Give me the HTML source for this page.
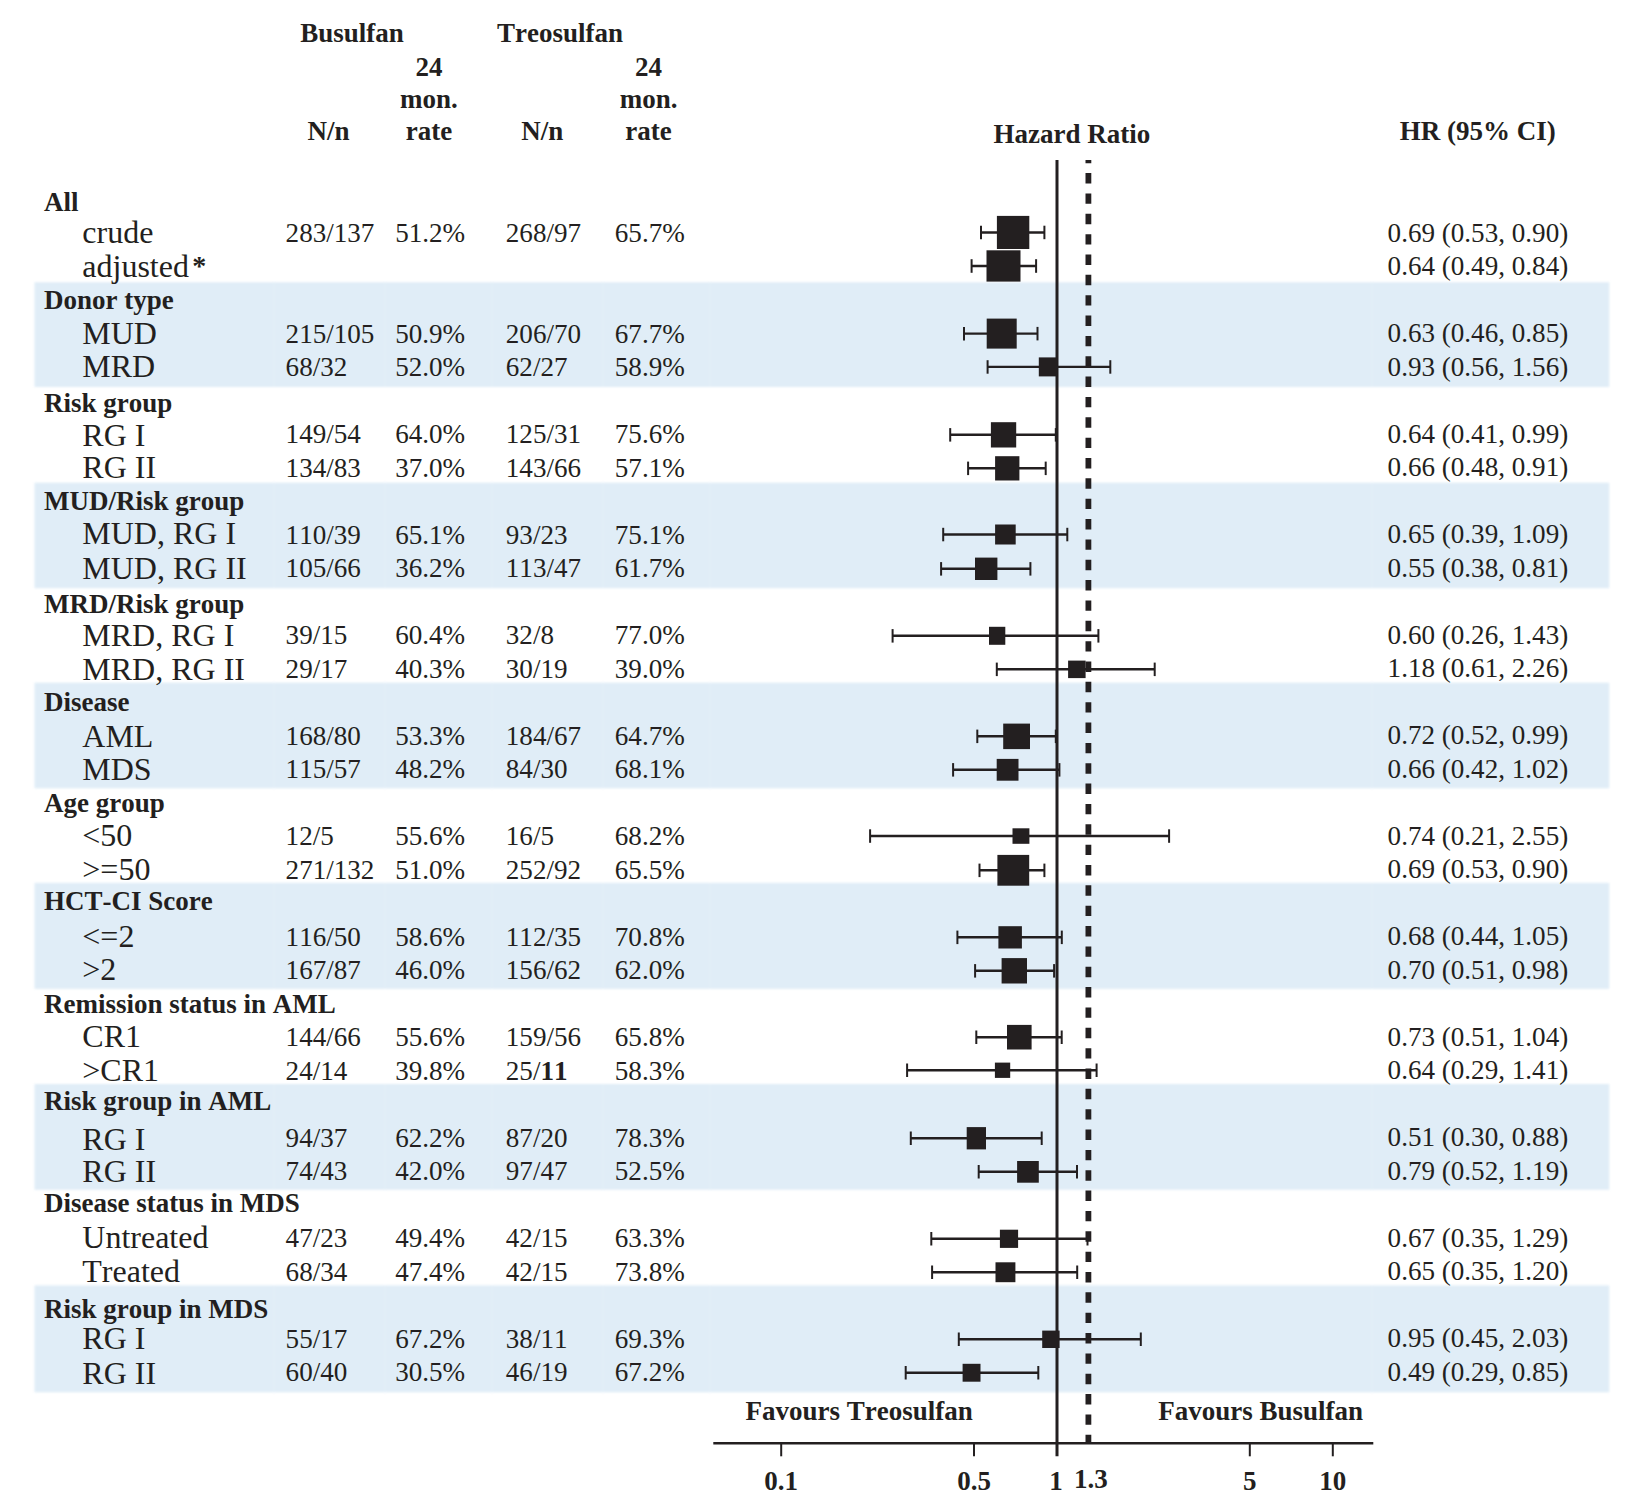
<!DOCTYPE html>
<html lang="en"><head><meta charset="utf-8"><title>Forest plot</title>
<style>
html,body{margin:0;padding:0;background:#fff;}
body{width:1650px;height:1508px;overflow:hidden;}
svg{display:block;}
.bands{filter:blur(1px);}
text{font-kerning:none;font-family:"Liberation Serif",serif;fill:#231f20;}
.b{font-weight:bold;font-size:27.00px;}
.d{font-size:27.10px;}
.l{font-size:32.00px;}
.m{text-anchor:middle;}
</style></head><body>
<svg width="1650" height="1508" viewBox="0 0 1650 1508">
<rect width="1650" height="1508" fill="#fff"/>
<g class="bands">
<rect x="34.5" y="282.2" width="1574.8" height="104.8" fill="#e0edf7"/>
<rect x="34.5" y="482.7" width="1574.8" height="105.5" fill="#e0edf7"/>
<rect x="34.5" y="682.7" width="1574.8" height="105.6" fill="#e0edf7"/>
<rect x="34.5" y="882.9" width="1574.8" height="106.0" fill="#e0edf7"/>
<rect x="34.5" y="1084.0" width="1574.8" height="105.8" fill="#e0edf7"/>
<rect x="34.5" y="1285.4" width="1574.8" height="106.9" fill="#e0edf7"/>
<rect x="273.0" y="282.2" width="2" height="104.8" fill="#fff" opacity="0.08"/>
<rect x="273.0" y="482.7" width="2" height="105.5" fill="#fff" opacity="0.08"/>
<rect x="273.0" y="682.7" width="2" height="105.6" fill="#fff" opacity="0.08"/>
<rect x="273.0" y="882.9" width="2" height="106.0" fill="#fff" opacity="0.08"/>
<rect x="273.0" y="1084.0" width="2" height="105.8" fill="#fff" opacity="0.08"/>
<rect x="273.0" y="1285.4" width="2" height="106.9" fill="#fff" opacity="0.08"/>
<rect x="384.0" y="282.2" width="2" height="104.8" fill="#fff" opacity="0.08"/>
<rect x="384.0" y="482.7" width="2" height="105.5" fill="#fff" opacity="0.08"/>
<rect x="384.0" y="682.7" width="2" height="105.6" fill="#fff" opacity="0.08"/>
<rect x="384.0" y="882.9" width="2" height="106.0" fill="#fff" opacity="0.08"/>
<rect x="384.0" y="1084.0" width="2" height="105.8" fill="#fff" opacity="0.08"/>
<rect x="384.0" y="1285.4" width="2" height="106.9" fill="#fff" opacity="0.08"/>
<rect x="491.0" y="282.2" width="2" height="104.8" fill="#fff" opacity="0.08"/>
<rect x="491.0" y="482.7" width="2" height="105.5" fill="#fff" opacity="0.08"/>
<rect x="491.0" y="682.7" width="2" height="105.6" fill="#fff" opacity="0.08"/>
<rect x="491.0" y="882.9" width="2" height="106.0" fill="#fff" opacity="0.08"/>
<rect x="491.0" y="1084.0" width="2" height="105.8" fill="#fff" opacity="0.08"/>
<rect x="491.0" y="1285.4" width="2" height="106.9" fill="#fff" opacity="0.08"/>
<rect x="602.0" y="282.2" width="2" height="104.8" fill="#fff" opacity="0.08"/>
<rect x="602.0" y="482.7" width="2" height="105.5" fill="#fff" opacity="0.08"/>
<rect x="602.0" y="682.7" width="2" height="105.6" fill="#fff" opacity="0.08"/>
<rect x="602.0" y="882.9" width="2" height="106.0" fill="#fff" opacity="0.08"/>
<rect x="602.0" y="1084.0" width="2" height="105.8" fill="#fff" opacity="0.08"/>
<rect x="602.0" y="1285.4" width="2" height="106.9" fill="#fff" opacity="0.08"/>
<rect x="709.0" y="282.2" width="2" height="104.8" fill="#fff" opacity="0.08"/>
<rect x="709.0" y="482.7" width="2" height="105.5" fill="#fff" opacity="0.08"/>
<rect x="709.0" y="682.7" width="2" height="105.6" fill="#fff" opacity="0.08"/>
<rect x="709.0" y="882.9" width="2" height="106.0" fill="#fff" opacity="0.08"/>
<rect x="709.0" y="1084.0" width="2" height="105.8" fill="#fff" opacity="0.08"/>
<rect x="709.0" y="1285.4" width="2" height="106.9" fill="#fff" opacity="0.08"/>
<rect x="1371.0" y="282.2" width="2" height="104.8" fill="#fff" opacity="0.08"/>
<rect x="1371.0" y="482.7" width="2" height="105.5" fill="#fff" opacity="0.08"/>
<rect x="1371.0" y="682.7" width="2" height="105.6" fill="#fff" opacity="0.08"/>
<rect x="1371.0" y="882.9" width="2" height="106.0" fill="#fff" opacity="0.08"/>
<rect x="1371.0" y="1084.0" width="2" height="105.8" fill="#fff" opacity="0.08"/>
<rect x="1371.0" y="1285.4" width="2" height="106.9" fill="#fff" opacity="0.08"/>
</g>
<text x="300.3" y="42.3" class="b">Busulfan</text>
<text x="497.0" y="42.3" class="b">Treosulfan</text>
<text x="428.9" y="75.7" class="b m">24</text>
<text x="428.9" y="108.0" class="b m">mon.</text>
<text x="428.9" y="139.8" class="b m">rate</text>
<text x="648.6" y="75.7" class="b m">24</text>
<text x="648.6" y="108.0" class="b m">mon.</text>
<text x="648.6" y="139.8" class="b m">rate</text>
<text x="307.5" y="139.8" class="b">N/n</text>
<text x="521.3" y="139.8" class="b">N/n</text>
<text x="993.6" y="142.7" class="b">Hazard Ratio</text>
<text x="1399.8" y="140.0" class="b">HR (95% CI)</text>
<text x="44.0" y="210.8" class="b">All</text>
<text x="82.3" y="242.6" class="l">crude</text>
<text x="285.6" y="242.2" class="d">283/137</text>
<text x="395.2" y="242.2" class="d">51.2%</text>
<text x="505.8" y="242.2" class="d">268/97</text>
<text x="614.8" y="242.2" class="d">65.7%</text>
<text x="1387.6" y="241.6" class="d">0.69 (0.53, 0.90)</text>
<text x="82.3" y="277.2" class="l">adjusted<tspan font-weight="bold" font-size="28" dx="3.2" dy="-2.2">*</tspan></text>
<text x="1387.6" y="275.1" class="d">0.64 (0.49, 0.84)</text>
<text x="44.0" y="309.0" class="b">Donor type</text>
<text x="82.3" y="343.5" class="l">MUD</text>
<text x="285.6" y="342.7" class="d">215/105</text>
<text x="395.2" y="342.7" class="d">50.9%</text>
<text x="505.8" y="342.7" class="d">206/70</text>
<text x="614.8" y="342.7" class="d">67.7%</text>
<text x="1387.6" y="342.1" class="d">0.63 (0.46, 0.85)</text>
<text x="82.3" y="377.4" class="l">MRD</text>
<text x="285.6" y="376.2" class="d">68/32</text>
<text x="395.2" y="376.2" class="d">52.0%</text>
<text x="505.8" y="376.2" class="d">62/27</text>
<text x="614.8" y="376.2" class="d">58.9%</text>
<text x="1387.6" y="375.6" class="d">0.93 (0.56, 1.56)</text>
<text x="44.0" y="412.2" class="b">Risk group</text>
<text x="82.3" y="445.7" class="l">RG I</text>
<text x="285.6" y="443.2" class="d">149/54</text>
<text x="395.2" y="443.2" class="d">64.0%</text>
<text x="505.8" y="443.2" class="d">125/31</text>
<text x="614.8" y="443.2" class="d">75.6%</text>
<text x="1387.6" y="442.6" class="d">0.64 (0.41, 0.99)</text>
<text x="82.3" y="478.2" class="l">RG II</text>
<text x="285.6" y="476.7" class="d">134/83</text>
<text x="395.2" y="476.7" class="d">37.0%</text>
<text x="505.8" y="476.7" class="d">143/66</text>
<text x="614.8" y="476.7" class="d">57.1%</text>
<text x="1387.6" y="476.1" class="d">0.66 (0.48, 0.91)</text>
<text x="44.0" y="509.6" class="b">MUD/Risk group</text>
<text x="82.3" y="544.2" class="l">MUD, RG I</text>
<text x="285.6" y="543.7" class="d">110/39</text>
<text x="395.2" y="543.7" class="d">65.1%</text>
<text x="505.8" y="543.7" class="d">93/23</text>
<text x="614.8" y="543.7" class="d">75.1%</text>
<text x="1387.6" y="543.1" class="d">0.65 (0.39, 1.09)</text>
<text x="82.3" y="578.7" class="l">MUD, RG II</text>
<text x="285.6" y="577.2" class="d">105/66</text>
<text x="395.2" y="577.2" class="d">36.2%</text>
<text x="505.8" y="577.2" class="d">113/47</text>
<text x="614.8" y="577.2" class="d">61.7%</text>
<text x="1387.6" y="576.6" class="d">0.55 (0.38, 0.81)</text>
<text x="44.0" y="613.4" class="b">MRD/Risk group</text>
<text x="82.3" y="646.2" class="l">MRD, RG I</text>
<text x="285.6" y="644.2" class="d">39/15</text>
<text x="395.2" y="644.2" class="d">60.4%</text>
<text x="505.8" y="644.2" class="d">32/8</text>
<text x="614.8" y="644.2" class="d">77.0%</text>
<text x="1387.6" y="643.6" class="d">0.60 (0.26, 1.43)</text>
<text x="82.3" y="679.7" class="l">MRD, RG II</text>
<text x="285.6" y="677.7" class="d">29/17</text>
<text x="395.2" y="677.7" class="d">40.3%</text>
<text x="505.8" y="677.7" class="d">30/19</text>
<text x="614.8" y="677.7" class="d">39.0%</text>
<text x="1387.6" y="677.1" class="d">1.18 (0.61, 2.26)</text>
<text x="44.0" y="711.3" class="b">Disease</text>
<text x="82.3" y="746.7" class="l">AML</text>
<text x="285.6" y="744.7" class="d">168/80</text>
<text x="395.2" y="744.7" class="d">53.3%</text>
<text x="505.8" y="744.7" class="d">184/67</text>
<text x="614.8" y="744.7" class="d">64.7%</text>
<text x="1387.6" y="744.1" class="d">0.72 (0.52, 0.99)</text>
<text x="82.3" y="780.4" class="l">MDS</text>
<text x="285.6" y="778.2" class="d">115/57</text>
<text x="395.2" y="778.2" class="d">48.2%</text>
<text x="505.8" y="778.2" class="d">84/30</text>
<text x="614.8" y="778.2" class="d">68.1%</text>
<text x="1387.6" y="777.6" class="d">0.66 (0.42, 1.02)</text>
<text x="44.0" y="812.2" class="b">Age group</text>
<text x="82.3" y="845.7" class="l">&lt;50</text>
<text x="285.6" y="845.2" class="d">12/5</text>
<text x="395.2" y="845.2" class="d">55.6%</text>
<text x="505.8" y="845.2" class="d">16/5</text>
<text x="614.8" y="845.2" class="d">68.2%</text>
<text x="1387.6" y="844.6" class="d">0.74 (0.21, 2.55)</text>
<text x="82.3" y="879.7" class="l">&gt;=50</text>
<text x="285.6" y="878.7" class="d">271/132</text>
<text x="395.2" y="878.7" class="d">51.0%</text>
<text x="505.8" y="878.7" class="d">252/92</text>
<text x="614.8" y="878.7" class="d">65.5%</text>
<text x="1387.6" y="878.1" class="d">0.69 (0.53, 0.90)</text>
<text x="44.0" y="910.3" class="b">HCT-CI Score</text>
<text x="82.3" y="947.0" class="l">&lt;=2</text>
<text x="285.6" y="945.7" class="d">116/50</text>
<text x="395.2" y="945.7" class="d">58.6%</text>
<text x="505.8" y="945.7" class="d">112/35</text>
<text x="614.8" y="945.7" class="d">70.8%</text>
<text x="1387.6" y="945.1" class="d">0.68 (0.44, 1.05)</text>
<text x="82.3" y="980.3" class="l">&gt;2</text>
<text x="285.6" y="979.2" class="d">167/87</text>
<text x="395.2" y="979.2" class="d">46.0%</text>
<text x="505.8" y="979.2" class="d">156/62</text>
<text x="614.8" y="979.2" class="d">62.0%</text>
<text x="1387.6" y="978.6" class="d">0.70 (0.51, 0.98)</text>
<text x="44.0" y="1013.4" class="b">Remission status in AML</text>
<text x="82.3" y="1047.3" class="l">CR1</text>
<text x="285.6" y="1046.2" class="d">144/66</text>
<text x="395.2" y="1046.2" class="d">55.6%</text>
<text x="505.8" y="1046.2" class="d">159/56</text>
<text x="614.8" y="1046.2" class="d">65.8%</text>
<text x="1387.6" y="1045.6" class="d">0.73 (0.51, 1.04)</text>
<text x="82.3" y="1081.3" class="l">&gt;CR1</text>
<text x="285.6" y="1079.7" class="d">24/14</text>
<text x="395.2" y="1079.7" class="d">39.8%</text>
<text x="505.8" y="1079.7" class="d">25/<tspan font-weight="bold">11</tspan></text>
<text x="614.8" y="1079.7" class="d">58.3%</text>
<text x="1387.6" y="1079.1" class="d">0.64 (0.29, 1.41)</text>
<text x="44.0" y="1109.7" class="b">Risk group in AML</text>
<text x="82.3" y="1150.0" class="l">RG I</text>
<text x="285.6" y="1146.7" class="d">94/37</text>
<text x="395.2" y="1146.7" class="d">62.2%</text>
<text x="505.8" y="1146.7" class="d">87/20</text>
<text x="614.8" y="1146.7" class="d">78.3%</text>
<text x="1387.6" y="1146.1" class="d">0.51 (0.30, 0.88)</text>
<text x="82.3" y="1181.9" class="l">RG II</text>
<text x="285.6" y="1180.2" class="d">74/43</text>
<text x="395.2" y="1180.2" class="d">42.0%</text>
<text x="505.8" y="1180.2" class="d">97/47</text>
<text x="614.8" y="1180.2" class="d">52.5%</text>
<text x="1387.6" y="1179.6" class="d">0.79 (0.52, 1.19)</text>
<text x="44.0" y="1212.1" class="b">Disease status in MDS</text>
<text x="82.3" y="1248.3" class="l">Untreated</text>
<text x="285.6" y="1247.2" class="d">47/23</text>
<text x="395.2" y="1247.2" class="d">49.4%</text>
<text x="505.8" y="1247.2" class="d">42/15</text>
<text x="614.8" y="1247.2" class="d">63.3%</text>
<text x="1387.6" y="1246.6" class="d">0.67 (0.35, 1.29)</text>
<text x="82.3" y="1281.9" class="l">Treated</text>
<text x="285.6" y="1280.7" class="d">68/34</text>
<text x="395.2" y="1280.7" class="d">47.4%</text>
<text x="505.8" y="1280.7" class="d">42/15</text>
<text x="614.8" y="1280.7" class="d">73.8%</text>
<text x="1387.6" y="1280.1" class="d">0.65 (0.35, 1.20)</text>
<text x="44.0" y="1318.2" class="b">Risk group in MDS</text>
<text x="82.3" y="1349.4" class="l">RG I</text>
<text x="285.6" y="1347.7" class="d">55/17</text>
<text x="395.2" y="1347.7" class="d">67.2%</text>
<text x="505.8" y="1347.7" class="d">38/11</text>
<text x="614.8" y="1347.7" class="d">69.3%</text>
<text x="1387.6" y="1347.1" class="d">0.95 (0.45, 2.03)</text>
<text x="82.3" y="1383.5" class="l">RG II</text>
<text x="285.6" y="1381.2" class="d">60/40</text>
<text x="395.2" y="1381.2" class="d">30.5%</text>
<text x="505.8" y="1381.2" class="d">46/19</text>
<text x="614.8" y="1381.2" class="d">67.2%</text>
<text x="1387.6" y="1380.6" class="d">0.49 (0.29, 0.85)</text>
<line x1="1088.4" y1="160" x2="1088.4" y2="1443.2" stroke="#231f20" stroke-width="5.8" stroke-dasharray="10.4 9.95" stroke-dashoffset="7.25"/>
<line x1="1057.0" y1="160" x2="1057.0" y2="1456.3" stroke="#231f20" stroke-width="3"/>
<line x1="713.3" y1="1443.2" x2="1373.3" y2="1443.2" stroke="#231f20" stroke-width="2.4"/>
<line x1="781.2" y1="1443.2" x2="781.2" y2="1456.3" stroke="#231f20" stroke-width="2"/>
<line x1="974.0" y1="1443.2" x2="974.0" y2="1456.3" stroke="#231f20" stroke-width="2"/>
<line x1="1249.8" y1="1443.2" x2="1249.8" y2="1456.3" stroke="#231f20" stroke-width="2"/>
<line x1="1332.8" y1="1443.2" x2="1332.8" y2="1456.3" stroke="#231f20" stroke-width="2"/>
<text x="781.2" y="1489.8" class="b m">0.1</text>
<text x="974.0" y="1489.8" class="b m">0.5</text>
<text x="1056.0" y="1490.2" class="b m">1</text>
<text x="1074.0" y="1488.2" class="b">1.3</text>
<text x="1249.8" y="1489.8" class="b m">5</text>
<text x="1332.8" y="1489.8" class="b m">10</text>
<text x="745.6" y="1420.3" class="b">Favours Treosulfan</text>
<text x="1158.2" y="1420.3" class="b">Favours Busulfan</text>
<g stroke="#231f20" stroke-width="2.4"><line x1="981.0" y1="232.5" x2="1044.4" y2="232.5"/>
<line x1="981.0" y1="225.7" x2="981.0" y2="239.2" stroke-width="2"/><line x1="1044.4" y1="225.7" x2="1044.4" y2="239.2" stroke-width="2"/></g>
<rect x="996.9" y="215.9" width="32.4" height="33.1" fill="#231f20"/>
<g stroke="#231f20" stroke-width="2.4"><line x1="971.6" y1="266.0" x2="1036.1" y2="266.0"/>
<line x1="971.6" y1="259.2" x2="971.6" y2="272.8" stroke-width="2"/><line x1="1036.1" y1="259.2" x2="1036.1" y2="272.8" stroke-width="2"/></g>
<rect x="986.5" y="250.3" width="34.0" height="31.3" fill="#231f20"/>
<g stroke="#231f20" stroke-width="2.4"><line x1="964.0" y1="333.6" x2="1037.5" y2="333.6"/>
<line x1="964.0" y1="326.9" x2="964.0" y2="340.4" stroke-width="2"/><line x1="1037.5" y1="326.9" x2="1037.5" y2="340.4" stroke-width="2"/></g>
<rect x="986.7" y="318.6" width="30.0" height="30.0" fill="#231f20"/>
<g stroke="#231f20" stroke-width="2.4"><line x1="987.6" y1="366.9" x2="1110.3" y2="366.9"/>
<line x1="987.6" y1="360.2" x2="987.6" y2="373.7" stroke-width="2"/><line x1="1110.3" y1="360.2" x2="1110.3" y2="373.7" stroke-width="2"/></g>
<rect x="1038.8" y="357.4" width="19.0" height="19.0" fill="#231f20"/>
<g stroke="#231f20" stroke-width="2.4"><line x1="950.2" y1="434.8" x2="1055.8" y2="434.8"/>
<line x1="950.2" y1="428.1" x2="950.2" y2="441.6" stroke-width="2"/><line x1="1055.8" y1="428.1" x2="1055.8" y2="441.6" stroke-width="2"/></g>
<rect x="990.9" y="422.2" width="25.3" height="25.3" fill="#231f20"/>
<g stroke="#231f20" stroke-width="2.4"><line x1="968.1" y1="468.3" x2="1045.7" y2="468.3"/>
<line x1="968.1" y1="461.6" x2="968.1" y2="475.1" stroke-width="2"/><line x1="1045.7" y1="461.6" x2="1045.7" y2="475.1" stroke-width="2"/></g>
<rect x="995.1" y="456.2" width="24.3" height="24.3" fill="#231f20"/>
<g stroke="#231f20" stroke-width="2.4"><line x1="943.2" y1="534.5" x2="1067.3" y2="534.5"/>
<line x1="943.2" y1="527.8" x2="943.2" y2="541.3" stroke-width="2"/><line x1="1067.3" y1="527.8" x2="1067.3" y2="541.3" stroke-width="2"/></g>
<rect x="995.1" y="524.5" width="20.6" height="20.0" fill="#231f20"/>
<g stroke="#231f20" stroke-width="2.4"><line x1="941.1" y1="568.8" x2="1030.4" y2="568.8"/>
<line x1="941.1" y1="562.1" x2="941.1" y2="575.6" stroke-width="2"/><line x1="1030.4" y1="562.1" x2="1030.4" y2="575.6" stroke-width="2"/></g>
<rect x="975.0" y="557.6" width="22.4" height="22.4" fill="#231f20"/>
<g stroke="#231f20" stroke-width="2.4"><line x1="892.6" y1="635.8" x2="1098.4" y2="635.8"/>
<line x1="892.6" y1="629.1" x2="892.6" y2="642.6" stroke-width="2"/><line x1="1098.4" y1="629.1" x2="1098.4" y2="642.6" stroke-width="2"/></g>
<rect x="989.0" y="626.8" width="16.3" height="18.0" fill="#231f20"/>
<g stroke="#231f20" stroke-width="2.4"><line x1="996.8" y1="669.3" x2="1154.7" y2="669.3"/>
<line x1="996.8" y1="662.6" x2="996.8" y2="676.1" stroke-width="2"/><line x1="1154.7" y1="662.6" x2="1154.7" y2="676.1" stroke-width="2"/></g>
<rect x="1068.1" y="660.6" width="17.5" height="17.5" fill="#231f20"/>
<g stroke="#231f20" stroke-width="2.4"><line x1="977.3" y1="736.3" x2="1055.8" y2="736.3"/>
<line x1="977.3" y1="729.6" x2="977.3" y2="743.1" stroke-width="2"/><line x1="1055.8" y1="729.6" x2="1055.8" y2="743.1" stroke-width="2"/></g>
<rect x="1003.2" y="723.6" width="26.8" height="25.5" fill="#231f20"/>
<g stroke="#231f20" stroke-width="2.4"><line x1="953.1" y1="769.8" x2="1059.4" y2="769.8"/>
<line x1="953.1" y1="763.1" x2="953.1" y2="776.6" stroke-width="2"/><line x1="1059.4" y1="763.1" x2="1059.4" y2="776.6" stroke-width="2"/></g>
<rect x="996.7" y="758.9" width="21.8" height="21.8" fill="#231f20"/>
<g stroke="#231f20" stroke-width="2.4"><line x1="870.1" y1="836.0" x2="1169.1" y2="836.0"/>
<line x1="870.1" y1="829.3" x2="870.1" y2="842.8" stroke-width="2"/><line x1="1169.1" y1="829.3" x2="1169.1" y2="842.8" stroke-width="2"/></g>
<rect x="1012.5" y="828.3" width="16.9" height="15.5" fill="#231f20"/>
<g stroke="#231f20" stroke-width="2.4"><line x1="979.5" y1="870.3" x2="1044.4" y2="870.3"/>
<line x1="979.5" y1="863.6" x2="979.5" y2="877.1" stroke-width="2"/><line x1="1044.4" y1="863.6" x2="1044.4" y2="877.1" stroke-width="2"/></g>
<rect x="997.4" y="854.9" width="31.8" height="30.8" fill="#231f20"/>
<g stroke="#231f20" stroke-width="2.4"><line x1="957.4" y1="937.3" x2="1061.8" y2="937.3"/>
<line x1="957.4" y1="930.6" x2="957.4" y2="944.1" stroke-width="2"/><line x1="1061.8" y1="930.6" x2="1061.8" y2="944.1" stroke-width="2"/></g>
<rect x="998.4" y="926.2" width="23.5" height="22.3" fill="#231f20"/>
<g stroke="#231f20" stroke-width="2.4"><line x1="975.1" y1="970.8" x2="1054.1" y2="970.8"/>
<line x1="975.1" y1="964.1" x2="975.1" y2="977.6" stroke-width="2"/><line x1="1054.1" y1="964.1" x2="1054.1" y2="977.6" stroke-width="2"/></g>
<rect x="1001.6" y="958.1" width="25.4" height="25.4" fill="#231f20"/>
<g stroke="#231f20" stroke-width="2.4"><line x1="976.3" y1="1037.2" x2="1061.7" y2="1037.2"/>
<line x1="976.3" y1="1030.5" x2="976.3" y2="1044.0" stroke-width="2"/><line x1="1061.7" y1="1030.5" x2="1061.7" y2="1044.0" stroke-width="2"/></g>
<rect x="1007.0" y="1024.9" width="24.6" height="24.6" fill="#231f20"/>
<g stroke="#231f20" stroke-width="2.4"><line x1="907.1" y1="1070.3" x2="1096.6" y2="1070.3"/>
<line x1="907.1" y1="1063.5" x2="907.1" y2="1077.0" stroke-width="2"/><line x1="1096.6" y1="1063.5" x2="1096.6" y2="1077.0" stroke-width="2"/></g>
<rect x="994.9" y="1062.6" width="15.3" height="15.3" fill="#231f20"/>
<g stroke="#231f20" stroke-width="2.4"><line x1="910.8" y1="1138.3" x2="1041.7" y2="1138.3"/>
<line x1="910.8" y1="1131.5" x2="910.8" y2="1145.0" stroke-width="2"/><line x1="1041.7" y1="1131.5" x2="1041.7" y2="1145.0" stroke-width="2"/></g>
<rect x="966.7" y="1127.1" width="19.3" height="22.3" fill="#231f20"/>
<g stroke="#231f20" stroke-width="2.4"><line x1="978.7" y1="1171.8" x2="1077.0" y2="1171.8"/>
<line x1="978.7" y1="1165.0" x2="978.7" y2="1178.5" stroke-width="2"/><line x1="1077.0" y1="1165.0" x2="1077.0" y2="1178.5" stroke-width="2"/></g>
<rect x="1017.1" y="1161.0" width="21.7" height="21.7" fill="#231f20"/>
<g stroke="#231f20" stroke-width="2.4"><line x1="931.3" y1="1238.8" x2="1087.5" y2="1238.8"/>
<line x1="931.3" y1="1232.0" x2="931.3" y2="1245.5" stroke-width="2"/><line x1="1087.5" y1="1232.0" x2="1087.5" y2="1245.5" stroke-width="2"/></g>
<rect x="999.9" y="1229.7" width="18.2" height="18.2" fill="#231f20"/>
<g stroke="#231f20" stroke-width="2.4"><line x1="932.1" y1="1272.3" x2="1077.2" y2="1272.3"/>
<line x1="932.1" y1="1265.5" x2="932.1" y2="1279.0" stroke-width="2"/><line x1="1077.2" y1="1265.5" x2="1077.2" y2="1279.0" stroke-width="2"/></g>
<rect x="995.5" y="1262.3" width="19.9" height="19.9" fill="#231f20"/>
<g stroke="#231f20" stroke-width="2.4"><line x1="958.8" y1="1339.3" x2="1140.8" y2="1339.3"/>
<line x1="958.8" y1="1332.5" x2="958.8" y2="1346.0" stroke-width="2"/><line x1="1140.8" y1="1332.5" x2="1140.8" y2="1346.0" stroke-width="2"/></g>
<rect x="1042.2" y="1330.6" width="17.4" height="17.4" fill="#231f20"/>
<g stroke="#231f20" stroke-width="2.4"><line x1="905.7" y1="1372.8" x2="1038.3" y2="1372.8"/>
<line x1="905.7" y1="1366.0" x2="905.7" y2="1379.5" stroke-width="2"/><line x1="1038.3" y1="1366.0" x2="1038.3" y2="1379.5" stroke-width="2"/></g>
<rect x="962.6" y="1363.8" width="17.9" height="17.9" fill="#231f20"/>
</svg></body></html>
